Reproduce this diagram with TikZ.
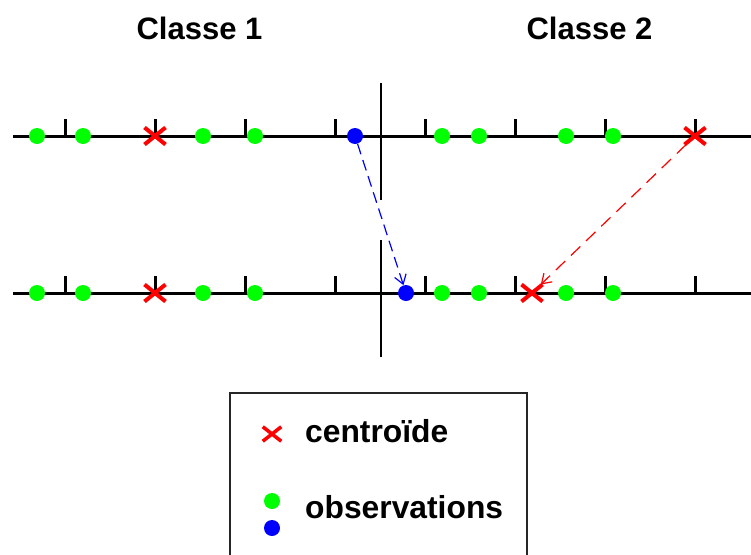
\documentclass[tikz,border=0pt]{standalone}
\usepackage{fontspec}
\setmainfont{Liberation Sans}
\usetikzlibrary{shapes.misc,arrows.meta}
\definecolor{obsgreen}{RGB}{0,255,0}
\definecolor{obsblue}{RGB}{0,0,255}
\definecolor{centred}{RGB}{255,0,0}
\begin{document}
\begin{tikzpicture}[x=1pt,y=-1pt,
  axisline/.style={line width=3pt,black},
  tickmark/.style={line width=3pt,black},
  sepline/.style={line width=1.8pt,black},
  obs/.style={circle,fill=obsgreen,inner sep=0pt,minimum size=16pt},
  obsb/.style={circle,fill=obsblue,inner sep=0pt,minimum size=16pt},
  cent/.style={cross out,draw=centred,line width=4pt,minimum width=17pt,minimum height=13pt,inner sep=0pt},
  title/.style={font=\bfseries\fontsize{31}{36}\selectfont},
  legtext/.style={font=\bfseries\fontsize{31.8}{36}\selectfont,anchor=base west,inner sep=0pt},
  bluemove/.style={obsblue,line width=1.2pt,dash pattern=on 11pt off 6pt,-{Straight Barb[length=9pt,width=12pt]}},
  redmove/.style={centred,line width=1.2pt,dash pattern=on 13pt off 8pt,-{Straight Barb[length=9pt,width=12pt]}}
]
\useasboundingbox (0,0) rectangle (751,554);
\fill[white] (0,0) rectangle (751,554);

% titles
\node[title] (t1) at (199.5,28) {Classe 1};
\node[title] (t2) at (589.5,28) {Classe 2};

% separating vertical lines
\draw[sepline] (381,83) -- (381,200);
\draw[sepline] (381,240) -- (381,357);

% axes
\draw[axisline] (13,136) -- (751,136);
\draw[axisline] (13,293) -- (751,293);
\foreach \x in {65,155,245,335,425,515,605,695} {
  \draw[tickmark] (\x,119) -- (\x,136);
  \draw[tickmark] (\x,276) -- (\x,293);
}

% top row
\node[obs] (a1) at (37,136) {};
\node[obs] (a2) at (83,136) {};
\node[cent] (ca) at (155,136) {};
\node[obs] (a3) at (203,136) {};
\node[obs] (a4) at (255,136) {};
\node[obsb] (ab) at (355,136) {};
\node[obs] (a5) at (442,136) {};
\node[obs] (a6) at (479,136) {};
\node[obs] (a7) at (566,136) {};
\node[obs] (a8) at (613,136) {};
\node[cent] (cb) at (695,136) {};

% bottom row
\node[obs] (b1) at (37,293) {};
\node[obs] (b2) at (83,293) {};
\node[cent] (da) at (155,293) {};
\node[obs] (b3) at (203,293) {};
\node[obs] (b4) at (255,293) {};
\node[obsb] (bb) at (406,293) {};
\node[obs] (b5) at (442,293) {};
\node[obs] (b6) at (479,293) {};
\node[cent] (db) at (532,293) {};
\node[obs] (b7) at (566,293) {};
\node[obs] (b8) at (613,293) {};

% movements
\draw[bluemove] (ab) -- (bb);
\draw[redmove] (cb) -- (db);

% legend
\draw[line width=1.2pt,black!85] (230,393) rectangle (527,560);
\node[cent,line width=3.5pt,minimum width=15pt,minimum height=11pt] (lc) at (272,434) {};
\node[legtext] (lt1) at (305,442) {centroïde};
\node[obs] (lg) at (272,501) {};
\node[obsb] (lb) at (272,528) {};
\node[legtext] (lt2) at (305,518) {observations};
\end{tikzpicture}
\end{document}
